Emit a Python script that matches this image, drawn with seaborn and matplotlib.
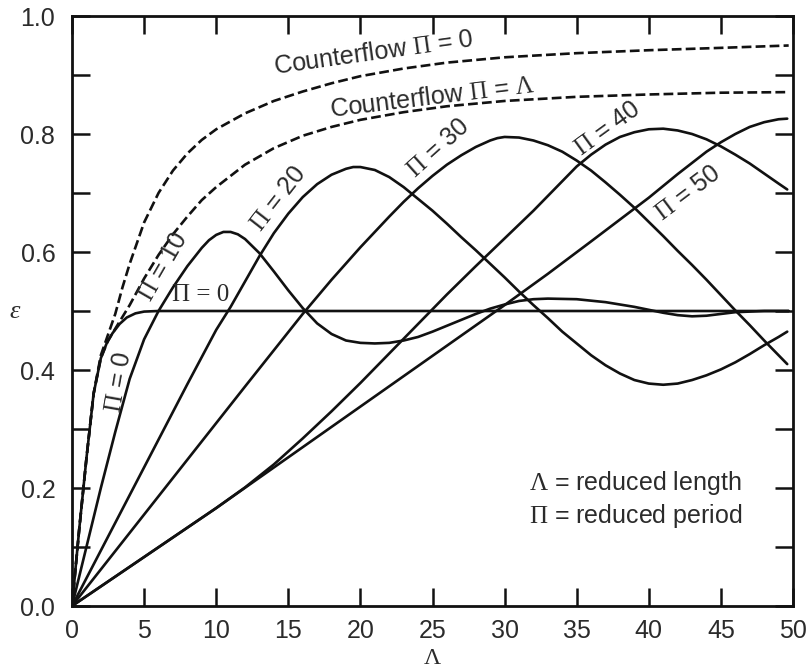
import matplotlib
matplotlib.use("Agg")
import matplotlib.pyplot as plt
from matplotlib.ticker import MultipleLocator
import pandas as pd
import seaborn as sns

# ---- curve data: reduced length (Lambda) vs effectiveness (epsilon) ----
lam_cf0 = [0, 0.5, 1, 1.5, 2, 2.5, 3, 3.5, 4, 4.5, 5, 6, 7, 8, 9, 10, 12, 14, 16, 18, 20, 23, 26, 30, 35, 40, 45, 49.7]
eps_cf0 = [0, 0.13, 0.25, 0.36, 0.425, 0.46, 0.495, 0.54, 0.58, 0.615, 0.65, 0.70, 0.738, 0.767, 0.79, 0.808, 0.835, 0.856, 0.872, 0.886, 0.898, 0.911, 0.921, 0.93, 0.937, 0.942, 0.946, 0.95]

lam_cfl = [0, 0.5, 1, 1.5, 2, 2.5, 3, 3.5, 4, 5, 6, 7, 8, 9, 10, 12, 14, 16, 18, 20, 23, 26, 30, 35, 40, 45, 49.7]
eps_cfl = [0, 0.13, 0.25, 0.36, 0.42, 0.45, 0.47, 0.49, 0.51, 0.555, 0.595, 0.63, 0.66, 0.688, 0.71, 0.748, 0.776, 0.797, 0.812, 0.824, 0.837, 0.847, 0.856, 0.863, 0.867, 0.87, 0.871]

lam_p0 = [0, 0.5, 1, 1.5, 2, 2.4, 2.8, 3.3, 3.8, 4.4, 5.0, 6.0, 8.0, 49.7]
eps_p0 = [0, 0.13, 0.25, 0.36, 0.42, 0.445, 0.462, 0.478, 0.489, 0.496, 0.499, 0.5, 0.5, 0.5]

lam_p10 = [0, 1, 2, 3, 4, 5, 6, 7, 8, 9, 9.5, 10, 10.5, 11, 11.5, 12, 13, 14, 15, 16, 17, 18, 19, 20, 21, 22, 23, 24, 25, 26, 27, 28, 29, 30, 31, 32, 33, 35, 37, 39, 40, 41, 42, 43, 44, 45, 46, 48, 49.7]
eps_p10 = [0, 0.10, 0.20, 0.295, 0.385, 0.452, 0.50, 0.54, 0.576, 0.607, 0.62, 0.629, 0.634, 0.634, 0.63, 0.622, 0.598, 0.567, 0.535, 0.505, 0.479, 0.461, 0.45, 0.446, 0.445, 0.446, 0.45, 0.456, 0.465, 0.475, 0.485, 0.495, 0.504, 0.511, 0.517, 0.52, 0.521, 0.52, 0.515, 0.507, 0.502, 0.497, 0.493, 0.491, 0.492, 0.495, 0.498, 0.5, 0.5]

lam_p20 = [0, 2, 4, 6, 8, 10, 11, 12, 13, 14, 15, 16, 17, 18, 19, 19.5, 20, 21, 22, 23, 24, 25, 26, 27, 28, 29, 30, 31, 32, 33, 34, 35, 36, 37, 38, 39, 40, 41, 42, 43, 44, 45, 46, 47, 48, 49, 49.6]
eps_p20 = [0, 0.094, 0.188, 0.282, 0.376, 0.468, 0.507, 0.55, 0.593, 0.632, 0.665, 0.693, 0.715, 0.731, 0.741, 0.744, 0.744, 0.739, 0.727, 0.71, 0.69, 0.67, 0.648, 0.625, 0.603, 0.58, 0.557, 0.533, 0.51, 0.488, 0.465, 0.445, 0.425, 0.408, 0.394, 0.383, 0.377, 0.375, 0.377, 0.383, 0.391, 0.401, 0.413, 0.427, 0.442, 0.456, 0.465]

lam_p30 = [0, 4, 8, 12, 16, 18, 20, 21, 22, 23, 24, 25, 26, 27, 28, 29, 29.5, 30, 31, 32, 33, 34, 35, 36, 37, 38, 39, 40, 41, 42, 43, 44, 45, 46, 47, 48, 49, 49.6]
eps_p30 = [0, 0.124, 0.248, 0.372, 0.495, 0.553, 0.608, 0.634, 0.66, 0.685, 0.708, 0.729, 0.748, 0.764, 0.778, 0.789, 0.793, 0.795, 0.794, 0.789, 0.781, 0.77, 0.755, 0.738, 0.718, 0.697, 0.675, 0.651, 0.627, 0.602, 0.578, 0.553, 0.527, 0.501, 0.476, 0.45, 0.425, 0.41]

lam_p40 = [0, 5, 10, 12, 14, 16, 18, 20, 22, 24, 26, 28, 30, 32, 33, 34, 35, 36, 37, 38, 39, 40, 41, 42, 43, 44, 45, 46, 47, 48, 49, 49.6]
eps_p40 = [0, 0.083, 0.166, 0.201, 0.24, 0.284, 0.33, 0.378, 0.428, 0.478, 0.528, 0.576, 0.623, 0.67, 0.695, 0.72, 0.745, 0.765, 0.782, 0.795, 0.803, 0.808, 0.809, 0.806, 0.80, 0.791, 0.779, 0.765, 0.75, 0.733, 0.716, 0.706]

lam_p50 = [0, 5, 10, 15, 20, 25, 30, 33, 36, 38, 40, 42, 44, 45, 46, 47, 48, 49, 49.6]
eps_p50 = [0, 0.083, 0.166, 0.252, 0.338, 0.424, 0.51, 0.563, 0.618, 0.655, 0.692, 0.732, 0.77, 0.786, 0.80, 0.812, 0.82, 0.825, 0.826]

x_ticks = [0, 5, 10, 15, 20, 25, 30, 35, 40, 45, 50]
y_ticks = [0.0, 0.2, 0.4, 0.6, 0.8, 1.0]

INK = "#111111"
TEXT = "#2b2b2b"

sns.set_theme(style="ticks")
plt.rcParams["font.family"] = ["Liberation Sans", "DejaVu Sans"]
plt.rcParams["mathtext.fontset"] = "custom"
plt.rcParams["mathtext.rm"] = "Liberation Serif"
plt.rcParams["mathtext.it"] = "Liberation Serif:italic"
plt.rcParams["mathtext.bf"] = "Liberation Serif:bold"

fig = plt.figure(figsize=(8.1, 6.7), dpi=100)
ax = fig.add_axes([72 / 810, 1 - 606 / 670, 721 / 810, 590 / 670])

curves = [
    (lam_cf0, eps_cf0, "--"),
    (lam_cfl, eps_cfl, "--"),
    (lam_p0, eps_p0, "-"),
    (lam_p10, eps_p10, "-"),
    (lam_p20, eps_p20, "-"),
    (lam_p30, eps_p30, "-"),
    (lam_p40, eps_p40, "-"),
    (lam_p50, eps_p50, "-"),
]
for lam, eps, ls in curves:
    df = pd.DataFrame({"lam": lam, "eps": eps})
    line_kw = dict(dashes=(4.6, 2.6)) if ls == "--" else {}
    sns.lineplot(data=df, x="lam", y="eps", ax=ax, color=INK, lw=1.9,
                 estimator=None, sort=False, linestyle=ls, **line_kw)

ax.set_xlim(0, 50)
ax.set_ylim(0, 1.0)
ax.set_xticks(x_ticks)
ax.set_yticks(y_ticks)
ax.set_xticklabels([str(v) for v in x_ticks])
ax.set_yticklabels([f"{v:.1f}" for v in y_ticks])
ax.yaxis.set_minor_locator(MultipleLocator(0.1))

for side in ["left", "right", "top", "bottom"]:
    ax.spines[side].set_visible(True)
    ax.spines[side].set_linewidth(2.0)
    ax.spines[side].set_color(INK)

ax.tick_params(axis="both", which="both", direction="in", length=13, width=1.8,
               color=INK, top=True, right=True, labelcolor=TEXT, labelsize=18)
ax.tick_params(axis="x", pad=9)
ax.tick_params(axis="y", which="major", pad=12)

ax.set_xlabel(r"$\Lambda$", fontsize=17, color=TEXT)
ax.xaxis.label.set_va("center")
ax.xaxis.set_label_coords(0.5, -0.088)
ax.set_ylabel(r"$\varepsilon$", fontsize=19, color=TEXT, rotation=0)
ax.yaxis.label.set_va("center")
ax.yaxis.label.set_ha("center")
ax.yaxis.set_label_coords(-0.079, 0.5)

lab = dict(color=TEXT, fontsize=18, ha="center", va="center", rotation_mode="anchor")
ax.text(20.9, 0.937, r"Counterflow $\Pi$ = 0", rotation=8, **lab)
ax.text(25.0, 0.862, r"Counterflow $\Pi$ = $\Lambda$", rotation=7, **lab)
ax.text(6.3, 0.575, r"$\Pi$ = 10", rotation=60, **lab)
ax.text(3.2, 0.38, r"$\Pi$ = 0", rotation=80, **lab)
ax.text(8.9, 0.527, "Π = 0", color=TEXT, fontsize=18, ha="center", va="center",
        family=["Liberation Serif", "DejaVu Serif"])
ax.text(14.3, 0.69, r"$\Pi$ = 20", rotation=52, **lab)
ax.text(25.4, 0.776, r"$\Pi$ = 30", rotation=42, **lab)
ax.text(37.1, 0.81, r"$\Pi$ = 40", rotation=36, **lab)
ax.text(42.7, 0.70, r"$\Pi$ = 50", rotation=37, **lab)

ax.text(31.7, 0.208, r"$\Lambda$ = reduced length", color=TEXT, fontsize=18, ha="left", va="center")
ax.text(31.7, 0.152, r"$\Pi$ = reduced period", color=TEXT, fontsize=18, ha="left", va="center")

fig.savefig("out.png", dpi=100, facecolor="white")
